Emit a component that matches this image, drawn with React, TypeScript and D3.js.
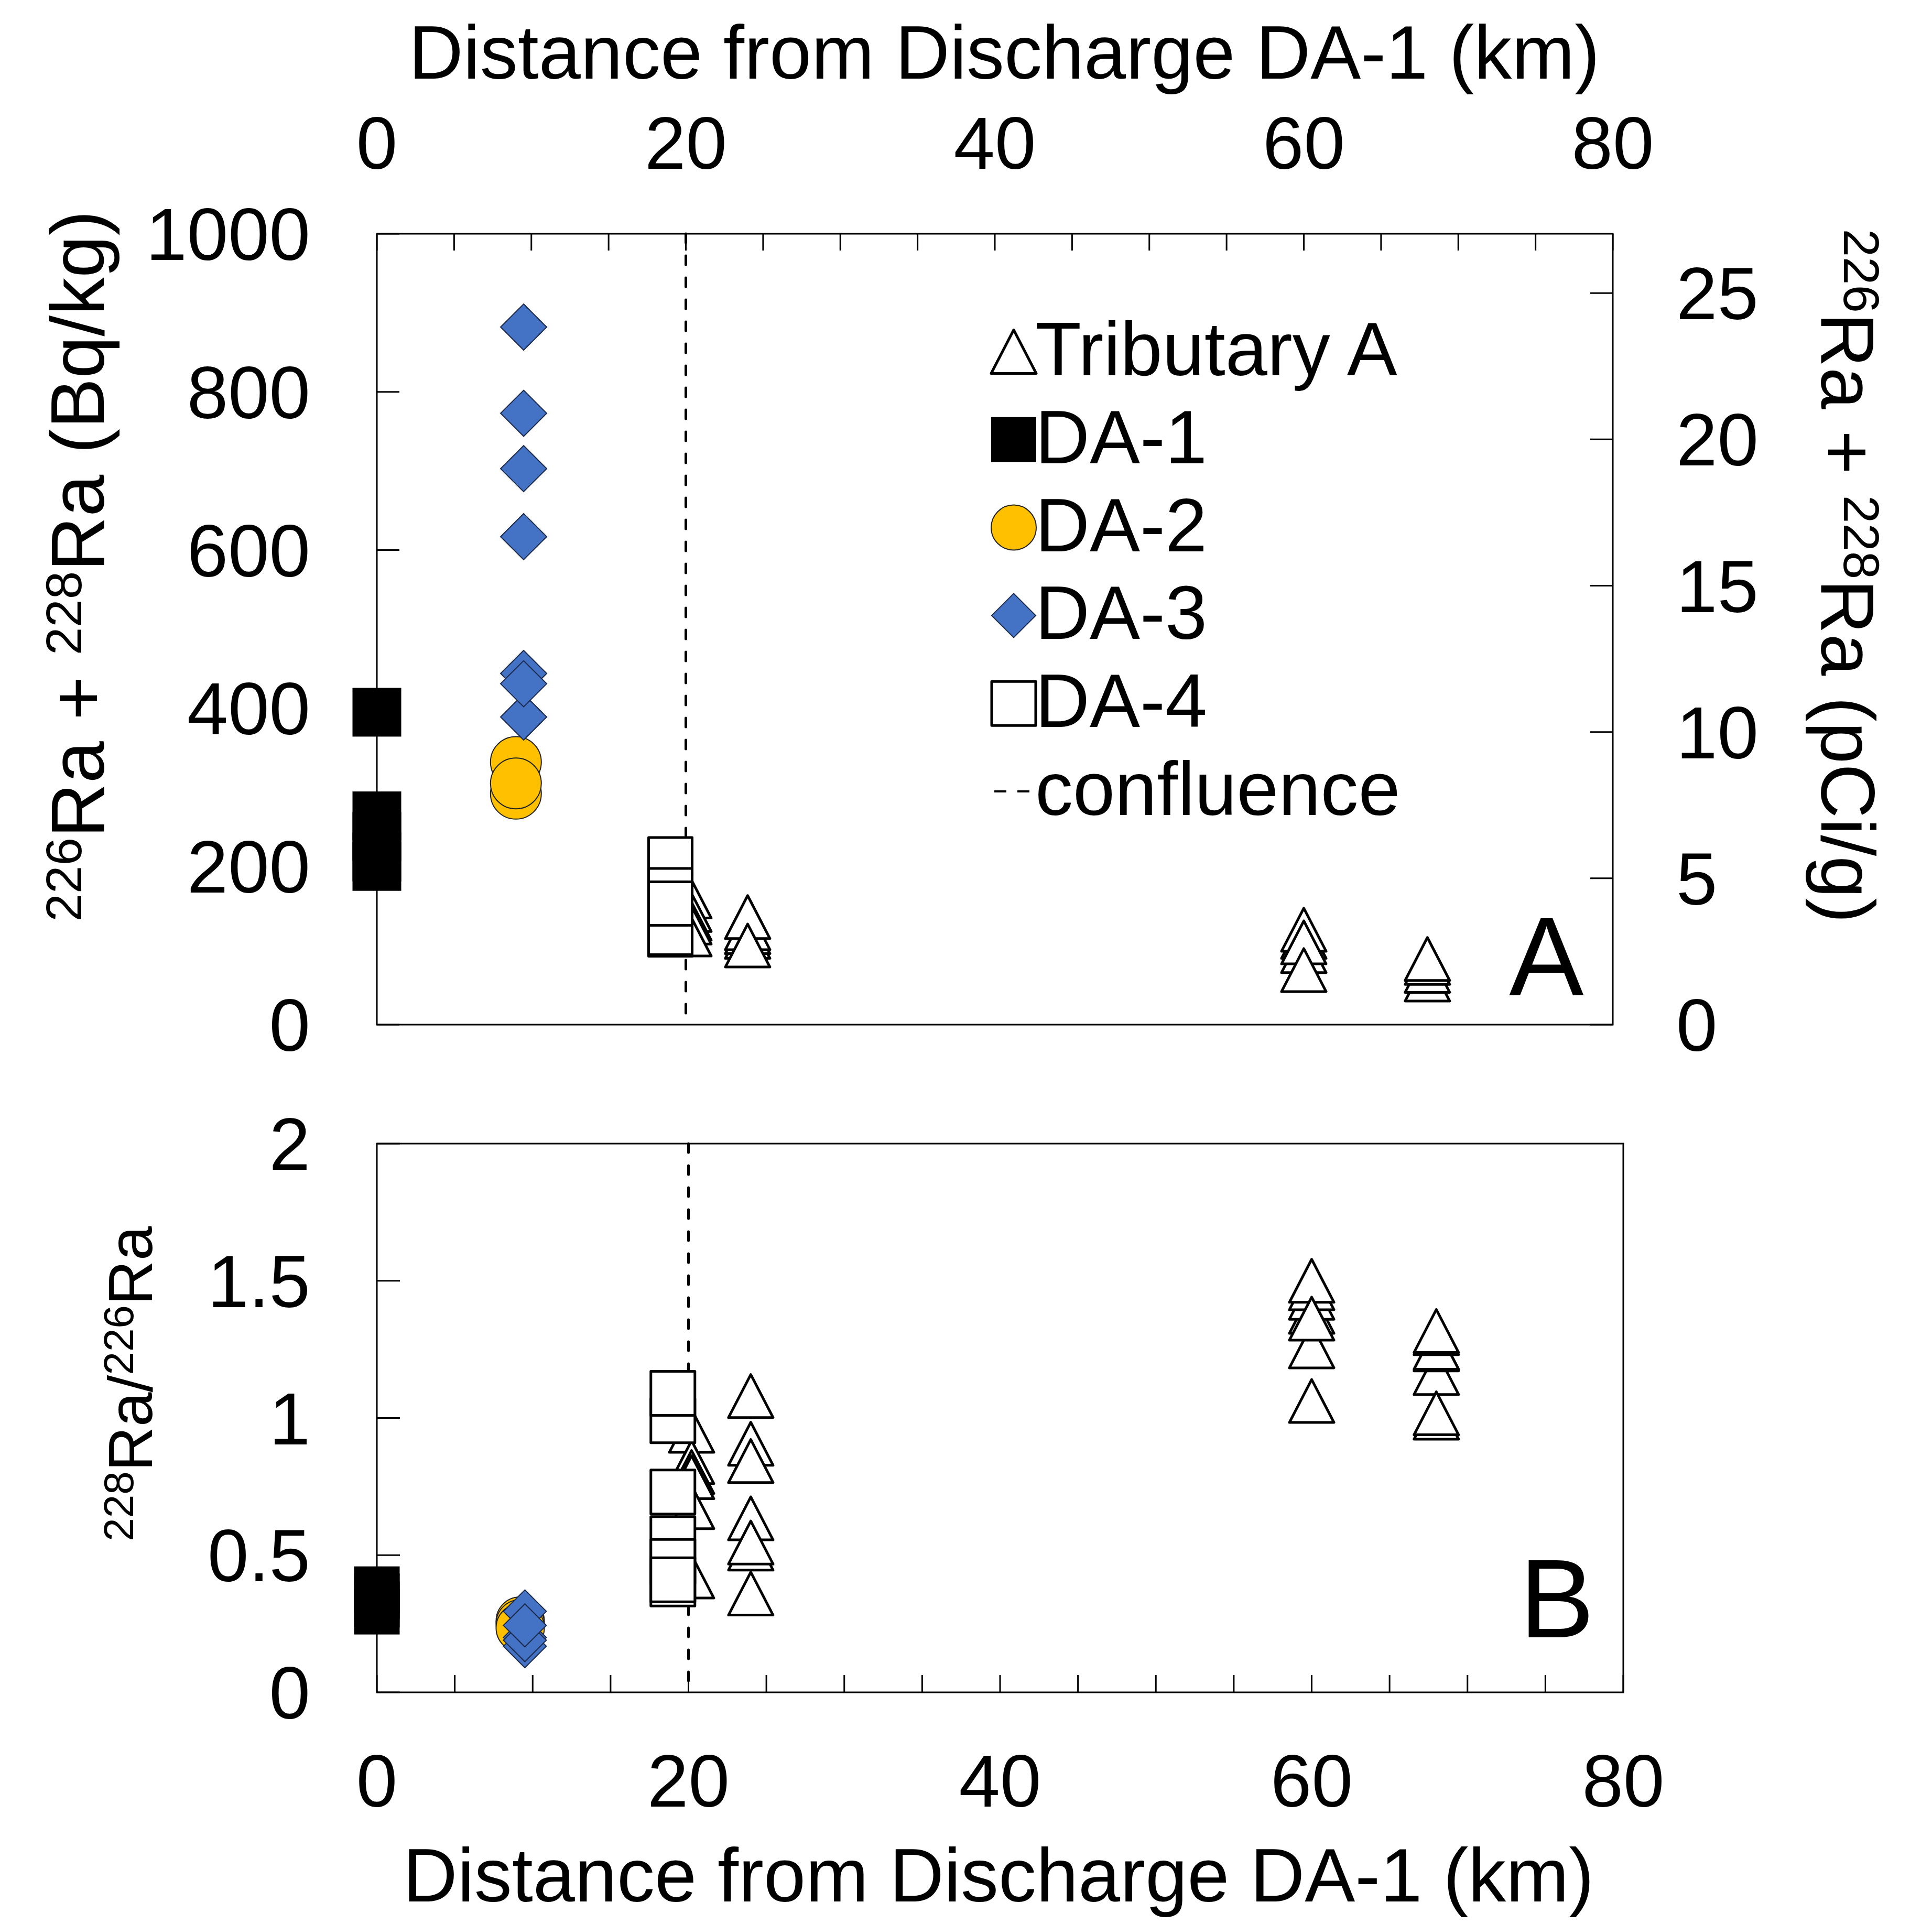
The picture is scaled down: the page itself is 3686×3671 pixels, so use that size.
import React from 'react';
import * as d3 from 'd3';

const W = 3686;
const H = 3671;
const FONT = '"Liberation Sans", Arial, Helvetica, sans-serif';

// ---------- axis ticks ----------
const distLabelTicks = [0, 20, 40, 60, 80];
const distMinorStep = 5;
const bqTicks = [0, 200, 400, 600, 800, 1000];
const pciTicks = [0, 5, 10, 15, 20, 25];
const ratioTicks = [0, 0.5, 1, 1.5, 2];
const ratioTickLabels = ['0', '0.5', '1', '1.5', '2'];
const BQ_PER_PCI = 37;
const confluenceKm = 20;

// ---------- panel A : 226Ra + 228Ra (Bq/kg) ----------  [km, Bq/kg]
const tribA_top: [number, number][] = [
  [20.2, 162], [20.2, 145], [20.2, 134], [20.2, 129], [20.2, 114],
  [24.0, 111], [24.0, 117], [24.0, 122], [24.0, 136], [24.0, 100],
  [60.0, 93], [60.0, 111], [60.0, 120], [60.0, 104], [60.0, 69],
  [68.0, 57], [68.0, 68], [68.0, 78], [68.0, 83],
];
const da1_top: [number, number][] = [[0, 395], [0, 264], [0, 238], [0, 212], [0, 200]];
const da2_top: [number, number][] = [[9.0, 332], [9.0, 292], [9.0, 305]];
const da3_top: [number, number][] = [
  [9.5, 882], [9.5, 773], [9.5, 703], [9.5, 617], [9.5, 444], [9.5, 389], [9.5, 431],
];
const da4_top: [number, number][] = [[19.0, 114], [19.0, 116], [19.0, 209], [19.0, 170], [19.0, 153]];

// ---------- panel B : 228Ra/226Ra ----------  [km, ratio]
const tribA_bot: [number, number][] = [
  [20.2, 0.953], [20.2, 0.839], [20.2, 0.803], [20.2, 0.784], [20.2, 0.675], [20.2, 0.422],
  [24.0, 1.08], [24.0, 0.906], [24.0, 0.843], [24.0, 0.634], [24.0, 0.524], [24.0, 0.546], [24.0, 0.36],
  [60.0, 1.261], [60.0, 1.387], [60.0, 1.438], [60.0, 1.473], [60.0, 1.5], [60.0, 1.362], [60.0, 1.062],
  [68.0, 1.001], [68.0, 1.164], [68.0, 1.25], [68.0, 1.256], [68.0, 1.309], [68.0, 1.317], [68.0, 1.017],
];
const da1_bot: [number, number][] = [[0, 0.376], [0, 0.35], [0, 0.32], [0, 0.294]];
const da2_bot: [number, number][] = [[9.2, 0.26], [9.2, 0.25], [9.2, 0.235]];
const da3_bot: [number, number][] = [[9.5, 0.295], [9.5, 0.168], [9.5, 0.2], [9.5, 0.19], [9.5, 0.244]];
const da4_bot: [number, number][] = [
  [19.0, 0.99], [19.0, 1.09], [19.0, 0.395], [19.0, 0.56], [19.0, 0.477], [19.0, 0.41], [19.0, 0.73],
];

// ---------- legend ----------
const legendItems = ['Tributary A', 'DA-1', 'DA-2', 'DA-3', 'DA-4', 'confluence'];

// ---------- styles ----------
const BLUE = '#4472C4';
const GOLD = '#FFC000';
const OPEN_SW = 5;

// ---------- layout ----------
const A = { x0: 719, x1: 3077, y0: 446, y1: 1955 };
const B = { x0: 719, x1: 3097, y0: 2182, y1: 3229 };

const xA = d3.scaleLinear().domain([0, 80]).range([A.x0, A.x1]);
const yA = d3.scaleLinear().domain([0, 1000]).range([A.y1, A.y0]);
const yA2 = d3.scaleLinear().domain([0, 1000 / BQ_PER_PCI]).range([A.y1, A.y0]);
const xB = d3.scaleLinear().domain([0, 80]).range([B.x0, B.x1]);
const yB = d3.scaleLinear().domain([0, 2]).range([B.y1, B.y0]);

const triPath = (cx: number, cy: number, w: number, h: number) =>
  `M${cx},${cy - h / 2}L${cx + w / 2},${cy + h / 2}L${cx - w / 2},${cy + h / 2}Z`;
const diaPath = (cx: number, cy: number, w: number, h: number) =>
  `M${cx},${cy - h / 2}L${cx + w / 2},${cy}L${cx},${cy + h / 2}L${cx - w / 2},${cy}Z`;

type Kind = 'tri' | 'sqFill' | 'circ' | 'dia' | 'sqOpen';

function Mark({ kind, cx, cy, s }: { kind: Kind; cx: number; cy: number; s: number }) {
  if (kind === 'tri')
    return <path d={triPath(cx, cy, s, s * 0.965)} fill="#fff" stroke="#000" strokeWidth={OPEN_SW} strokeLinejoin="round" />;
  if (kind === 'sqFill')
    return <rect x={cx - s / 2} y={cy - s / 2} width={s} height={s} fill="#000" />;
  if (kind === 'circ')
    return <circle cx={cx} cy={cy} r={s / 2} fill={GOLD} stroke="#222" strokeWidth={2} />;
  if (kind === 'dia')
    return <path d={diaPath(cx, cy, s, s)} fill={BLUE} stroke="#1b2a4a" strokeWidth={2} strokeLinejoin="miter" />;
  return <rect x={cx - s / 2} y={cy - s / 2} width={s} height={s} fill="#fff" stroke="#000" strokeWidth={OPEN_SW} strokeLinejoin="round" />;
}

function Series({ data, kind, s, xs, ys }: { data: [number, number][]; kind: Kind; s: number; xs: any; ys: any }) {
  return (
    <g>
      {data.map((d, i) => (
        <Mark key={i} kind={kind} cx={xs(d[0])} cy={ys(d[1])} s={s} />
      ))}
    </g>
  );
}

function RaTitle({
  x, y, rot, parts, size = 144, supSize = 96, shift = 43,
}: {
  x: number; y: number; rot: number; parts: { t: string; sup?: boolean }[];
  size?: number; supSize?: number; shift?: number;
}) {
  let lastSup = false;
  return (
    <text
      x={x}
      y={y}
      transform={`rotate(${rot},${x},${y})`}
      textAnchor="middle"
      fontSize={size}
      fontFamily={FONT}
      fill="#000"
    >
      {parts.map((p, i) => {
        let dy = 0;
        if (p.sup && !lastSup) dy = -shift;
        if (!p.sup && lastSup) dy = shift;
        lastSup = !!p.sup;
        return (
          <tspan key={i} dy={dy} fontSize={p.sup ? supSize : size}>
            {p.t}
          </tspan>
        );
      })}
    </text>
  );
}

export default function App() {
  const minorA = d3.range(0, 80 + 0.001, distMinorStep);
  const fs = 141;
  const legendX = 1934;
  const legendTextX = 1975;
  const legendBase0 = 716;
  const legendStep = 167.8;
  const legendKinds: (Kind | 'dash')[] = ['tri', 'sqFill', 'circ', 'dia', 'sqOpen', 'dash'];

  return (
    <svg
      width={W}
      height={H}
      viewBox={`0 0 ${W} ${H}`}
      style={{ position: 'absolute', left: 0, top: 0, display: 'block', background: '#fff' }}
      fontFamily={FONT}
    >
      <rect x={0} y={0} width={W} height={H} fill="#fff" />

      {/* ================= PANEL A ================= */}
      <line
        x1={xA(confluenceKm)}
        x2={xA(confluenceKm)}
        y1={A.y0}
        y2={A.y1}
        stroke="#000"
        strokeWidth={5}
        strokeDasharray="17 25"
        strokeLinecap="round"
      />
      <rect x={A.x0} y={A.y0} width={A.x1 - A.x0} height={A.y1 - A.y0} fill="none" stroke="#000" strokeWidth={3} />
      {minorA.map((v) => (
        <line key={'ta' + v} x1={xA(v)} x2={xA(v)} y1={A.y0} y2={A.y0 + 32} stroke="#000" strokeWidth={3} />
      ))}
      {bqTicks.map((v) => (
        <line key={'la' + v} x1={A.x0} x2={A.x0 + 43} y1={yA(v)} y2={yA(v)} stroke="#000" strokeWidth={3} />
      ))}
      {pciTicks.map((v) => (
        <line key={'ra' + v} x1={A.x1 - 43} x2={A.x1} y1={yA2(v)} y2={yA2(v)} stroke="#000" strokeWidth={3} />
      ))}
      {distLabelTicks.map((v) => (
        <text key={'tl' + v} x={xA(v)} y={322} textAnchor="middle" fontSize={fs}>
          {v}
        </text>
      ))}
      <text x={1916} y={150} textAnchor="middle" fontSize={144}>
        Distance from Discharge DA-1 (km)
      </text>
      {bqTicks.map((v) => (
        <text key={'ll' + v} x={592} y={yA(v) + 50} textAnchor="end" fontSize={fs}>
          {v}
        </text>
      ))}
      {pciTicks.map((v) => (
        <text key={'rl' + v} x={3198} y={yA2(v) + 50} textAnchor="start" fontSize={fs}>
          {v}
        </text>
      ))}
      <RaTitle
        x={198}
        y={1080}
        rot={-90}
        parts={[{ t: '226', sup: true }, { t: 'Ra + ' }, { t: '228', sup: true }, { t: 'Ra (Bq/kg)' }]}
      />
      <RaTitle
        x={3475}
        y={1099}
        rot={90}
        parts={[{ t: '226', sup: true }, { t: 'Ra + ' }, { t: '228', sup: true }, { t: 'Ra (pCi/g)' }]}
      />
      <text x={2879} y={1899} fontSize={214}>
        A
      </text>

      <Series data={tribA_top} kind="tri" s={85} xs={xA} ys={yA} />
      <Series data={da1_top} kind="sqFill" s={93} xs={xA} ys={yA} />
      <Series data={da2_top} kind="circ" s={97} xs={xA} ys={yA} />
      <Series data={da3_top} kind="dia" s={88} xs={xA} ys={yA} />
      <Series data={da4_top} kind="sqOpen" s={83} xs={xA} ys={yA} />

      {legendItems.map((name, i) => {
        const by = legendBase0 + i * legendStep;
        const cy = by - 45;
        const k = legendKinds[i];
        return (
          <g key={name}>
            {k === 'dash' ? (
              <line
                x1={legendX - 37}
                x2={legendX + 30}
                y1={cy}
                y2={cy}
                stroke="#000"
                strokeWidth={4}
                strokeDasharray="23 21"
              />
            ) : (
              <Mark kind={k} cx={legendX} cy={cy} s={k === 'tri' ? 86 : k === 'sqOpen' ? 84 : k === 'dia' ? 84 : 86} />
            )}
            <text x={legendTextX} y={by} fontSize={144}>
              {name}
            </text>
          </g>
        );
      })}

      {/* ================= PANEL B ================= */}
      <line
        x1={xB(confluenceKm)}
        x2={xB(confluenceKm)}
        y1={B.y0}
        y2={B.y1}
        stroke="#000"
        strokeWidth={5}
        strokeDasharray="17 25"
        strokeLinecap="round"
      />
      <rect x={B.x0} y={B.y0} width={B.x1 - B.x0} height={B.y1 - B.y0} fill="none" stroke="#000" strokeWidth={3} />
      {minorA.map((v) => (
        <line key={'bb' + v} x1={xB(v)} x2={xB(v)} y1={B.y1} y2={B.y1 - 33} stroke="#000" strokeWidth={3} />
      ))}
      {ratioTicks.map((v) => (
        <line key={'lb' + v} x1={B.x0} x2={B.x0 + 44} y1={yB(v)} y2={yB(v)} stroke="#000" strokeWidth={3} />
      ))}
      {distLabelTicks.map((v) => (
        <text key={'bl' + v} x={xB(v)} y={3447} textAnchor="middle" fontSize={fs}>
          {v}
        </text>
      ))}
      <text x={1905} y={3628} textAnchor="middle" fontSize={144}>
        Distance from Discharge DA-1 (km)
      </text>
      {ratioTicks.map((v, i) => (
        <text key={'lbl' + v} x={592} y={yB(v) + 50} textAnchor="end" fontSize={fs}>
          {ratioTickLabels[i]}
        </text>
      ))}
      <RaTitle
        x={290}
        y={2640}
        rot={-90}
        size={118}
        supSize={80}
        shift={36}
        parts={[{ t: '228', sup: true }, { t: 'Ra/' }, { t: '226', sup: true }, { t: 'Ra' }]}
      />
      <text x={2899} y={3124} fontSize={214}>
        B
      </text>

      <Series data={tribA_bot} kind="tri" s={85} xs={xB} ys={yB} />
      <Series data={da1_bot} kind="sqFill" s={87} xs={xB} ys={yB} />
      <Series data={da2_bot} kind="circ" s={92} xs={xB} ys={yB} />
      <Series data={da3_bot} kind="dia" s={82} xs={xB} ys={yB} />
      <Series data={da4_bot} kind="sqOpen" s={84} xs={xB} ys={yB} />
    </svg>
  );
}
